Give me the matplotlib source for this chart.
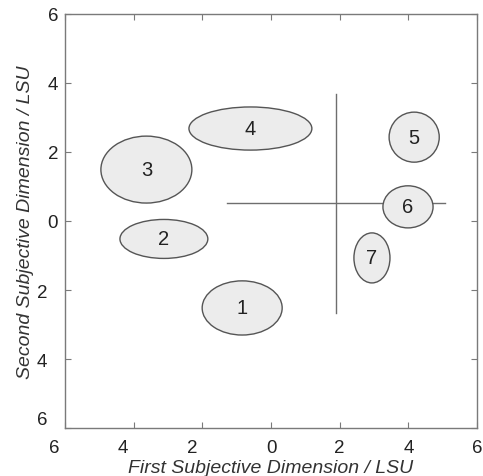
import matplotlib.pyplot as plt
from matplotlib.patches import Ellipse

# ellipse data (LSU): label, centre x, centre y, width, height
labels = ["1", "2", "3", "4", "5", "6", "7"]
cx = [-0.84, -3.12, -3.63, -0.60, 4.17, 3.99, 2.94]
cy = [-2.52, -0.52, 1.49, 2.68, 2.43, 0.41, -1.07]
w = [2.33, 2.56, 2.65, 3.58, 1.46, 1.46, 1.05]
h = [1.57, 1.13, 1.94, 1.25, 1.45, 1.22, 1.45]

# cross lines
vline_x = 1.88
vline_y = [-2.67, 3.68]
hline_y = 0.51
hline_x = [-1.28, 5.07]

ticks = [-6, -4, -2, 0, 2, 4, 6]
fs = "\u2007"
xtick_labels = ["6" + fs * 2, "4" + fs * 2, "2" + fs * 2, "0", "2", "4", "6"]
ytick_labels = ["6" + fs, "4" + fs, "2" + fs, "0", "2", "4", "6"]

plt.rcParams['font.family'] = ['Liberation Sans', 'DejaVu Sans']
gray = '#7a7a7a'

fig = plt.figure(figsize=(4.83, 4.77), dpi=100)
ax = fig.add_axes([0.1346, 0.1006, 0.853, 0.868])

ax.plot([vline_x, vline_x], vline_y, color='#6e6e6e', lw=1.0, zorder=1)
ax.plot(hline_x, [hline_y, hline_y], color='#6e6e6e', lw=1.0, zorder=1)

for i in range(len(labels)):
    e = Ellipse((cx[i], cy[i]), w[i], h[i], facecolor='#ececec',
                edgecolor='#555555', lw=1.0, zorder=2)
    ax.add_patch(e)
    ax.text(cx[i], cy[i], labels[i], ha='center', va='center',
            fontsize=14.5, color='#222222', zorder=3)

ax.set_xlim(-6, 6)
ax.set_ylim(-6, 6)
ax.set_xticks(ticks)
ax.set_yticks(ticks)
ax.set_xticklabels(xtick_labels)
ax.set_yticklabels(ytick_labels)
ax.get_yticklabels()[0].set_va('bottom')

ax.tick_params(direction='in', length=4, width=0.8, color=gray,
               top=True, right=True, labelsize=13.5, labelcolor='#222222')
ax.tick_params(axis='x', pad=8)
ax.tick_params(axis='y', pad=5)
for s in ax.spines.values():
    s.set_color(gray)
    s.set_linewidth(1.0)

ax.set_xlabel("First Subjective Dimension / LSU", fontsize=14, style='italic',
              color='#333333', labelpad=2)
ax.set_ylabel("Second Subjective Dimension / LSU", fontsize=14, style='italic',
              color='#333333', labelpad=2)

fig.savefig("out.png", dpi=100)
